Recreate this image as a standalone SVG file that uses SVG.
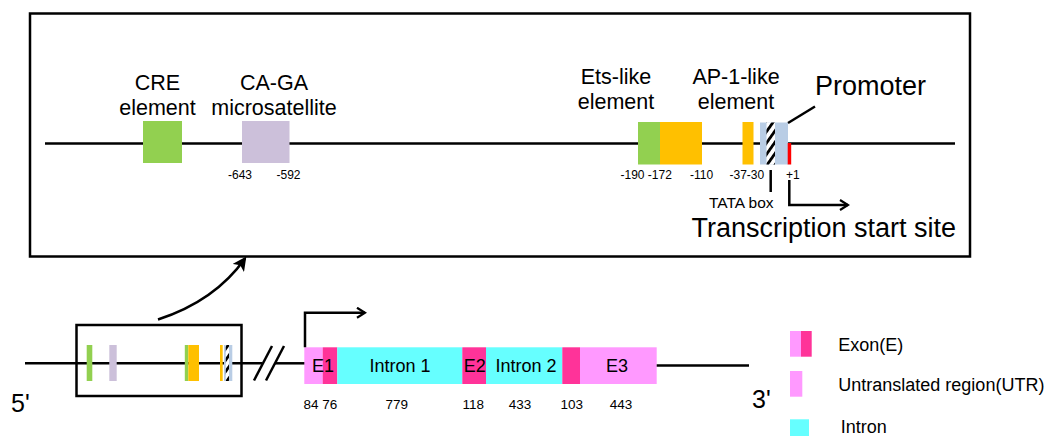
<svg xmlns="http://www.w3.org/2000/svg" width="1052" height="436" viewBox="0 0 1052 436">
  <style>
    text { font-family: "Liberation Sans", Arial, sans-serif; fill: #000; }
    .lbl { font-size: 21.5px; text-anchor: middle; }
    .big { font-size: 27px; }
    .pos { font-size: 12px; }
    .gene { font-size: 18px; text-anchor: middle; }
    .num { font-size: 13.5px; text-anchor: middle; }
    .leg { font-size: 18px; }
    .end { font-size: 25px; }
    .ln { stroke: #000; stroke-width: 2.5; fill: none; }
    .box { stroke: #000; stroke-width: 2.5; fill: none; }
    .cre { fill: #92D050; }
    .ets { fill: #FFC000; }
    .cag { fill: #CCC0DA; }
    .pro { fill: #B9CDE5; }
    .tss { fill: #FF0000; }
    .utr { fill: #FF99FF; }
    .cds { fill: #FF3399; }
    .int { fill: #66FFFF; }
  </style>
  <defs>
    <pattern id="hatch" patternUnits="userSpaceOnUse" width="6.5" height="6.5" patternTransform="rotate(35)">
      <rect width="6.5" height="6.5" fill="#fff"/>
      <rect width="2.8" height="6.5" fill="#000"/>
    </pattern>
    <marker id="chev" viewBox="0 0 12 12" refX="10" refY="6" markerWidth="12" markerHeight="12" markerUnits="userSpaceOnUse" orient="auto">
      <path d="M2,1 L10,6 L2,11" fill="none" stroke="#000" stroke-width="2.2"/>
    </marker>
    <marker id="tri" viewBox="0 0 12 12" refX="10" refY="6" markerWidth="14" markerHeight="14" markerUnits="userSpaceOnUse" orient="auto">
      <path d="M0,0 L12,6 L0,12 L3,6 Z" fill="#000"/>
    </marker>
  </defs>

  <!-- Enlarged promoter region -->
  <g id="promoter-panel">
    <rect class="box" x="30" y="13.5" width="940" height="243"/>
    <line class="ln" x1="45" y1="143.5" x2="955" y2="143.5"/>
  </g>

  <g id="cre">
    <rect class="cre" x="143" y="121" width="39" height="42"/>
    <text class="lbl" x="157.5" y="90">CRE</text>
    <text class="lbl" x="157.5" y="115">element</text>
  </g>

  <g id="caga">
    <rect class="cag" x="242" y="121" width="47.5" height="42"/>
    <text class="lbl" x="274" y="90">CA-GA</text>
    <text class="lbl" x="274" y="115">microsatellite</text>
    <text class="pos" x="228" y="179">-643</text>
    <text class="pos" x="276.5" y="179">-592</text>
  </g>

  <g id="ets">
    <rect class="cre" x="638" y="122" width="22" height="42.5"/>
    <rect class="ets" x="660" y="122" width="42" height="42.5"/>
    <text class="lbl" x="616" y="84">Ets-like</text>
    <text class="lbl" x="616" y="109">element</text>
    <text class="pos" x="620.5" y="179">-190 -172</text>
    <text class="pos" x="690" y="179">-110</text>
  </g>

  <g id="ap1">
    <rect class="ets" x="742.5" y="122" width="11" height="42.5"/>
    <text class="lbl" x="736" y="84">AP-1-like</text>
    <text class="lbl" x="736" y="109">element</text>
    <text class="pos" x="729.5" y="179">-37-30</text>
  </g>

  <g id="promoter">
    <rect class="pro" x="760" y="122.5" width="28" height="42"/>
    <rect x="766.5" y="122.5" width="8.5" height="42" fill="url(#hatch)"/>
    <rect class="tss" x="787.7" y="143" width="3.5" height="21.5"/>
    <line class="ln" x1="788" y1="123" x2="815" y2="106.5" stroke-width="2"/>
    <text class="big" x="815" y="95">Promoter</text>
  </g>

  <g id="tata">
    <line class="ln" x1="770.7" y1="170" x2="770.7" y2="192"/>
    <text x="709" y="208" font-size="15.5">TATA box</text>
  </g>

  <g id="start-site">
    <text class="pos" x="786" y="179">+1</text>
    <path class="ln" d="M789.3,180 V205 H848" marker-end="url(#chev)"/>
    <text class="big" x="691.5" y="236.7">Transcription start site</text>
  </g>

  <!-- Gene overview -->
  <g id="upstream">
    <line class="ln" x1="25" y1="363.3" x2="262" y2="363.3"/>
    <line class="ln" x1="275" y1="363.3" x2="305" y2="363.3"/>
    <line class="ln" x1="254" y1="380.5" x2="272" y2="346"/>
    <line class="ln" x1="266" y1="380.5" x2="284" y2="346"/>
    <text class="end" x="11" y="411.7">5'</text>
  </g>

  <g id="overview-box">
    <rect class="box" x="76.5" y="325" width="165" height="71"/>
    <rect class="cre" x="86.7" y="345" width="5.6" height="36"/>
    <rect class="cag" x="109.3" y="345" width="7.4" height="36"/>
    <rect class="cre" x="184.8" y="345" width="3.5" height="36"/>
    <rect class="ets" x="188.3" y="345" width="10.7" height="36"/>
    <rect class="ets" x="220" y="345" width="2.7" height="36"/>
    <rect class="pro" x="224" y="345" width="8.3" height="36"/>
    <rect x="225.8" y="345" width="3.2" height="36" fill="url(#hatch)"/>
  </g>

  <g id="gene">
    <rect class="utr" x="304.3" y="347.3" width="18.4" height="36.7"/>
    <rect class="cds" x="322.7" y="347.3" width="14.6" height="36.7"/>
    <rect class="int" x="337.3" y="347.3" width="125" height="36.7"/>
    <rect class="cds" x="462.3" y="347.3" width="23.7" height="36.7"/>
    <rect class="int" x="486" y="347.3" width="76.3" height="36.7"/>
    <rect class="cds" x="562.3" y="347.3" width="17.7" height="36.7"/>
    <rect class="utr" x="580" y="347.3" width="76.7" height="36.7"/>
    <line class="ln" x1="656.7" y1="365.5" x2="749" y2="365.5"/>
    <path class="ln" d="M305,347.3 V312.7 H365" marker-end="url(#chev)"/>
    <text class="gene" x="323" y="371.7">E1</text>
    <text class="gene" x="400" y="371.7">Intron 1</text>
    <text class="gene" x="474.7" y="371.7">E2</text>
    <text class="gene" x="526" y="371.7">Intron 2</text>
    <text class="gene" x="617" y="371.7">E3</text>
    <text class="num" x="320.3" y="409.3">84 76</text>
    <text class="num" x="396.7" y="409.3">779</text>
    <text class="num" x="473.3" y="409.3">118</text>
    <text class="num" x="520" y="409.3">433</text>
    <text class="num" x="571.7" y="409.3">103</text>
    <text class="num" x="621" y="409.3">443</text>
    <text class="end" x="752" y="408.3">3'</text>
  </g>

  <!-- Connector from the overview box to the enlarged panel -->
  <g id="connectors">
    <path class="ln" d="M158,319.5 Q215,301 245,258.5" marker-end="url(#tri)"/>
  </g>

  <g id="legend">
    <rect class="utr" x="790" y="331" width="11" height="25.7"/>
    <rect class="cds" x="801" y="331" width="10.7" height="25.7"/>
    <text class="leg" x="838.3" y="350.7">Exon(E)</text>
    <rect class="utr" x="790" y="371" width="12.3" height="25.7"/>
    <text class="leg" x="838.3" y="390.7">Untranslated region(UTR)</text>
    <rect class="int" x="790" y="419.3" width="19" height="16.7"/>
    <text class="leg" x="840.7" y="433">Intron</text>
  </g>
</svg>
